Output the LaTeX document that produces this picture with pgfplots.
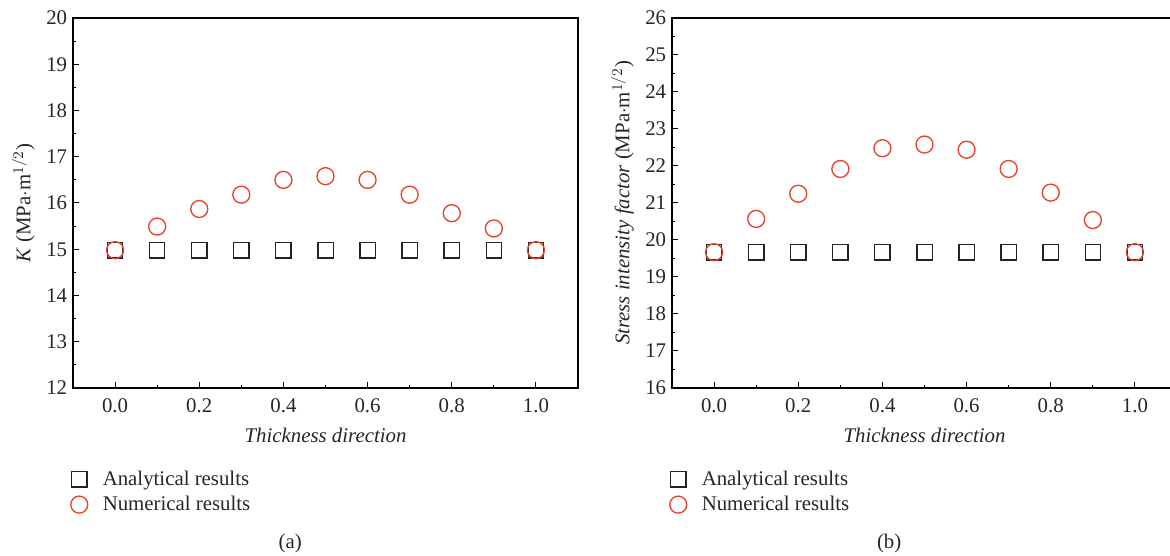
\documentclass[border=0pt]{standalone}
\usepackage{fontspec}
\setmainfont{Liberation Serif}
\usepackage{pgfplots}
\pgfplotsset{compat=1.18}

\definecolor{numred}{RGB}{232,64,42}
\definecolor{anablk}{RGB}{35,35,35}

\newcommand{\fs}{\fontsize{12.5}{14.5}\selectfont}

\pgfplotsset{
  kplot/.style={
    scale only axis, width=303pt, height=222pt,
    xmin=-0.1, xmax=1.1,
    xtick={0,0.2,...,1.0}, minor x tick num=1,
    minor y tick num=1,
    tick align=inside, xtick pos=left, ytick pos=left,
    major tick length=3.5pt, minor tick length=2pt,
    axis line style={line width=0.8pt},
    every tick/.style={black, line width=0.6pt},
    clip mode=individual,
    /pgf/number format/assume math mode=true,
    tick label style={font=\fs, text=black!85},
    xticklabel style={yshift=-3pt, /pgf/number format/.cd, fixed, fixed zerofill, precision=1},
    label style={font=\fs, text=black!85},
    xlabel style={yshift=-2pt},
    xlabel={\textit{Thickness direction}},
    legend style={at={(-0.015,-0.205)}, anchor=north west, draw=none, fill=none,
      font=\fs, row sep=1pt, text=black!85},
    legend cell align=left,
  },
  anaser/.style={only marks, mark=square, mark size=4.6pt, anablk, line width=0.8pt},
  numser/.style={only marks, mark=o, mark size=5.1pt, numred, line width=0.8pt},
}

\begin{document}
\begin{tikzpicture}
  \begin{axis}[kplot, at={(0pt,0pt)}, anchor=south west,
      ymin=12, ymax=20, ytick={12,13,...,20},
      ylabel={\textit{K} (MPa$\cdot$m$^{1/2}$)}]
    \addplot[anaser] coordinates {(0.0,14.98) (0.1,14.98) (0.2,14.98) (0.3,14.98) (0.4,14.98) (0.5,14.98) (0.6,14.98) (0.7,14.98) (0.8,14.98) (0.9,14.98) (1.0,14.98)};
    \addplot[numser] coordinates {(0.0,14.98) (0.1,15.49) (0.2,15.87) (0.3,16.18) (0.4,16.50) (0.5,16.58) (0.6,16.50) (0.7,16.18) (0.8,15.78) (0.9,15.45) (1.0,14.98)};
    \legend{\hspace{7pt}Analytical results, \hspace{7pt}Numerical results}
    \node[font=\fs, text=black!85] at (rel axis cs:0.43,-0.42) {(a)};
  \end{axis}
  \begin{axis}[kplot, at={(359.4pt,0pt)}, anchor=south west,
      ymin=16, ymax=26, ytick={16,17,...,26},
      ylabel={\textit{Stress intensity factor} (MPa$\cdot$m$^{1/2}$)}]
    \addplot[anaser] coordinates {(0.0,19.67) (0.1,19.67) (0.2,19.67) (0.3,19.67) (0.4,19.67) (0.5,19.67) (0.6,19.67) (0.7,19.67) (0.8,19.67) (0.9,19.67) (1.0,19.67)};
    \addplot[numser] coordinates {(0.0,19.67) (0.1,20.57) (0.2,21.25) (0.3,21.92) (0.4,22.48) (0.5,22.58) (0.6,22.44) (0.7,21.92) (0.8,21.28) (0.9,20.54) (1.0,19.67)};
    \legend{\hspace{7pt}Analytical results, \hspace{7pt}Numerical results}
    \node[font=\fs, text=black!85] at (rel axis cs:0.43,-0.42) {(b)};
  \end{axis}
  \pgfresetboundingbox
  \path[use as bounding box] (-43.8pt,-100.8pt) rectangle (658.2pt,232.8pt);
\end{tikzpicture}
\end{document}
